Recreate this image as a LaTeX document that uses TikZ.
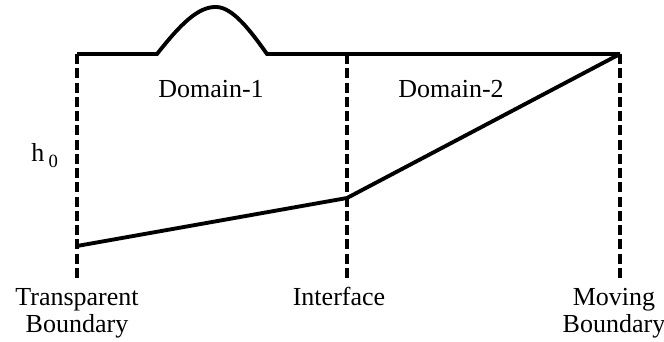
\documentclass[tikz,border=0pt]{standalone}
\usepackage{fontspec}
\setmainfont{Liberation Serif}
\begin{document}
\begin{tikzpicture}[x=0.75pt,y=-0.75pt,
  solidline/.style={line width=2.9pt,line join=miter},
  dashline/.style={line width=2.5pt,dash pattern=on 7.5pt off 3.2pt},
  lbl/.style={inner sep=0pt,font=\fontsize{19.5}{20.25}\selectfont,align=center}]
\useasboundingbox (0,0) rectangle (664,342);
% coordinates
\coordinate (tl) at (77,54);
\coordinate (tm) at (347,54);
\coordinate (tr) at (620,54);
\coordinate (bl) at (77,278);
\coordinate (bm) at (347,278);
\coordinate (br) at (620,278);
\coordinate (b0) at (157,54);
\coordinate (b1) at (267,54);
\coordinate (pk) at (217,7);
\coordinate (sl) at (77,246);
\coordinate (si) at (347,198);
% dashed boundaries
\draw[dashline] (tl) -- (bl);
\draw[dashline] (tm) -- (bm);
\draw[dashline] (tr) -- (br);
% free surface with bump
\draw[solidline] (tl) -- (b0) .. controls (180,25) and (198,6) .. (pk)
  .. controls (233,8) and (250,30) .. (b1) -- (tr);
% bottom
\draw[solidline] (sl) -- (si) -- (tr);
% labels
\node[lbl,anchor=base] (d1) at (211,98) {Domain-1};
\node[lbl,anchor=base] (d2) at (451,98) {Domain-2};
\node[lbl,anchor=base west] (h0) at (31,162) {h\,\raisebox{-4.5pt}{\fontsize{14}{14}\selectfont 0}};
\node[lbl,anchor=base] (tb) at (77,332) {Transparent\\Boundary};
\node[lbl,anchor=base] (if) at (339,305) {Interface};
\node[lbl,anchor=base] (mb) at (614,332) {Moving\\Boundary};
\end{tikzpicture}
\end{document}
